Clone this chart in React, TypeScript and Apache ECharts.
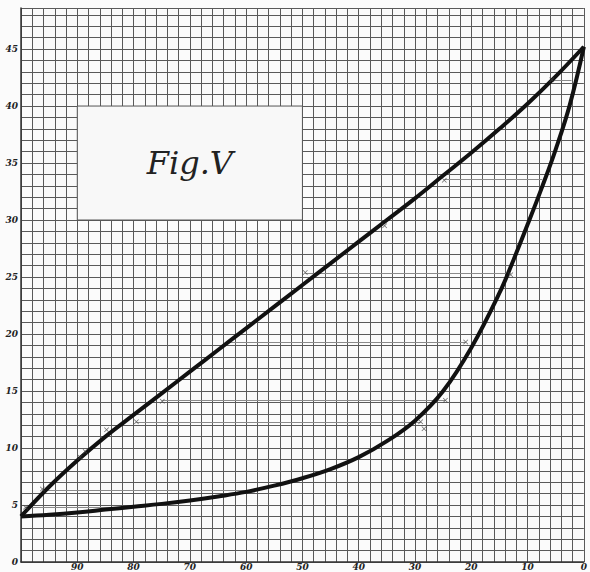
import React, { useEffect, useRef } from "react";
import * as echarts from "echarts";

// Upper curve, x = percent, y = value
const upperCurve: [number, number][] = [
  [100, 4.0], [95, 6.6], [90, 8.9], [85, 11.0], [80, 12.9], [75, 14.8],
  [70, 16.7], [65, 18.6], [60, 20.5], [55, 22.4], [50, 24.3], [45, 26.2],
  [40, 28.1], [35, 30.0], [30, 31.9], [25, 33.9], [20, 35.9], [15, 38.0],
  [10, 40.2], [5, 42.6], [0, 45.2],
];

// Lower curve
const lowerCurve: [number, number][] = [
  [100, 4.0], [95, 4.15], [90, 4.35], [85, 4.6], [80, 4.85], [75, 5.1],
  [70, 5.4], [65, 5.75], [60, 6.15], [55, 6.7], [50, 7.35], [45, 8.15],
  [40, 9.2], [35, 10.6], [30, 12.4], [25, 15.0], [20, 18.8], [15, 23.6],
  [12.5, 26.5], [10, 29.6], [7.5, 32.8], [5, 36.2], [2.5, 40.1], [0, 45.2],
];

// Observed points (crosses)
const upperMarks: [number, number][] = [
  [99.2, 4.8], [96.2, 6.4], [89.5, 9.2], [88.6, 9.7], [84.8, 11.6],
  [79.5, 12.3], [74.9, 14.1], [49.5, 25.4], [35.4, 29.5], [24.8, 33.5], [5.7, 42.3],
];
const lowerMarks: [number, number][] = [
  [29.0, 12.3], [28.4, 11.7], [24.6, 14.2], [21.0, 19.3], [13.0, 25.2],
];

// Tie lines: [y, x on upper side, x on lower side]
const ties: [number, number, number][] = [
  [4.8, 99.2, 80], [6.3, 96.2, 58], [12.3, 79.5, 29], [14.2, 74.9, 24.6],
  [19.3, 63, 21], [25.3, 49.5, 13], [33.6, 24.8, 7.4], [42.3, 5.7, 2.2],
];

const xTickLabels = [90, 80, 70, 60, 50, 40, 30, 20, 10, 0];
const yTickLabels = [0, 5, 10, 15, 20, 25, 30, 35, 40, 45];

const crossSymbol =
  "path://M0,1L1,0L5,4L9,0L10,1L6,5L10,9L9,10L5,6L1,10L0,9L4,5Z";

const labelStyle = {
  fontSize: 9,
  fontStyle: "italic" as const,
  fontWeight: "bold" as const,
  fontFamily: "DejaVu Serif",
  color: "#222",
};

export default function App() {
  const ref = useRef<HTMLDivElement>(null);

  useEffect(() => {
    document.body.style.margin = "0";
    if (!ref.current) return;
    const chart = echarts.init(ref.current, undefined, { renderer: "svg" });
    chart.setOption({
      animation: false,
      backgroundColor: "#fbfbfb",
      grid: { left: 21, right: 2, top: 8, bottom: 10 },
      xAxis: {
        type: "value",
        inverse: true,
        min: 0,
        max: 100,
        interval: 2,
        axisLine: { show: true, onZero: false, lineStyle: { color: "#333", width: 1.5 } },
        axisTick: { show: false },
        splitLine: { show: true, lineStyle: { color: "#5a5a5a", width: 1 } },
        axisLabel: {
          ...labelStyle,
          margin: 0,
          hideOverlap: false,
          showMinLabel: true,
          showMaxLabel: true,
          formatter: (v: number) => (xTickLabels.includes(v) ? String(v) : ""),
        },
      },
      yAxis: {
        type: "value",
        min: 0,
        max: 48.6,
        interval: 1,
        axisLine: { show: true, onZero: false, lineStyle: { color: "#333", width: 1.5 } },
        axisTick: { show: false },
        splitLine: { show: true, lineStyle: { color: "#5a5a5a", width: 1 } },
        axisLabel: {
          ...labelStyle,
          margin: 3,
          hideOverlap: false,
          showMinLabel: true,
          showMaxLabel: false,
          formatter: (v: number) => (yTickLabels.includes(v) ? String(v) : ""),
        },
      },
      series: [
        {
          type: "lines",
          coordinateSystem: "cartesian2d",
          silent: true,
          z: 2,
          lineStyle: { color: "#8a8a8a", width: 1, opacity: 1 },
          data: ties.map(([y, x1, x2]) => ({ coords: [[x1, y], [x2, y]] })),
        },
        {
          type: "line",
          name: "upper",
          data: upperCurve,
          smooth: 0.4,
          showSymbol: false,
          z: 3,
          lineStyle: { color: "#111", width: 4 },
          markArea: {
            silent: true,
            itemStyle: { color: "#f8f8f8", borderColor: "#555", borderWidth: 1 },
            label: {
              show: true,
              position: "inside",
              formatter: "Fig.V",
              fontSize: 32,
              fontFamily: "DejaVu Serif",
              fontStyle: "italic",
              color: "#222",
            },
            data: [[{ coord: [90, 40] }, { coord: [50, 30] }]],
          },
        },
        {
          type: "line",
          name: "lower",
          data: lowerCurve,
          smooth: 0.4,
          showSymbol: false,
          z: 3,
          lineStyle: { color: "#111", width: 4 },
        },
        {
          type: "scatter",
          data: [...upperMarks, ...lowerMarks],
          symbol: crossSymbol,
          symbolSize: 5,
          z: 4,
          itemStyle: { color: "#444" },
        },
      ],
    });
    return () => chart.dispose();
  }, []);

  return <div ref={ref} style={{ width: 590, height: 572 }} />;
}
